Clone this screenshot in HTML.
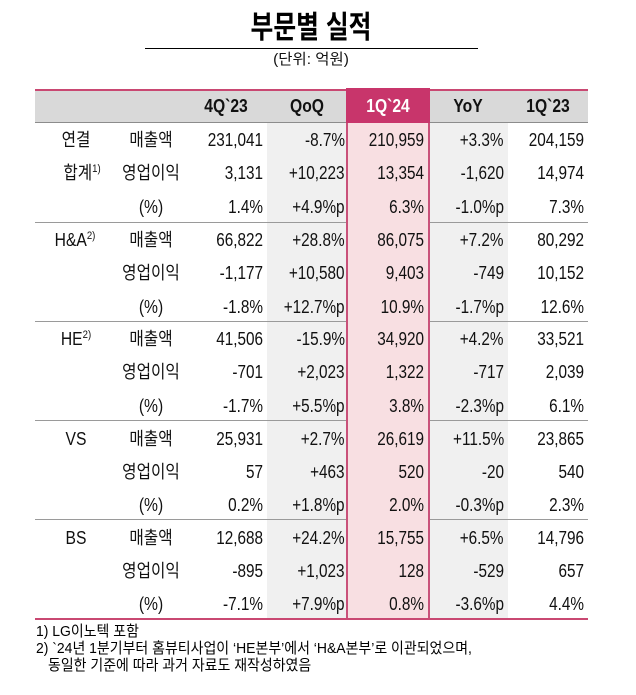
<!DOCTYPE html>
<html><head><meta charset="utf-8">
<style>
*{margin:0;padding:0;box-sizing:border-box}
html,body{width:636px;height:695px;background:#fff;overflow:hidden}
body{position:relative;font-family:"Liberation Sans","Noto Sans CJK KR",sans-serif;color:#111}
.abs{position:absolute}
.row{position:absolute;left:0;width:636px;height:30px}
.r{position:absolute;top:0;white-space:nowrap;line-height:30px;font-size:18px;transform:scaleX(.85);transform-origin:100% 50%}
.c{position:absolute;top:0;white-space:nowrap;line-height:30px;font-size:18px;transform:translateX(-50%) scaleX(.87);transform-origin:50% 50%}
.k3{right:373px}.k4{right:291px}.k5{right:212px}.k6{right:132px}.k7{right:52px}
.l1{left:76px}.l2{left:151px}
sup{font-size:11px;vertical-align:7px;line-height:0}
.h{font-weight:bold}
.sep{position:absolute;height:1px;background:#9a9a9a}
.fn{position:absolute;white-space:nowrap;font-size:15px;line-height:17px;transform:scaleX(.93);transform-origin:0 50%;color:#000}
</style></head><body>

<!-- title -->
<div class="abs" style="left:311px;top:8px;line-height:40px;font-size:31px;font-weight:bold;white-space:nowrap;transform:translateX(-50%) scaleX(.8);color:#000">부문별 실적</div>
<div class="abs" style="left:145px;top:48px;width:333px;height:1px;background:#000"></div>
<div class="abs" style="left:311px;top:50px;line-height:20px;font-size:15px;white-space:nowrap;transform:translateX(-50%) scaleX(1.03)">(단위: 억원)</div>

<!-- header band -->
<div class="abs" style="left:35px;top:89px;width:553px;height:2px;background:#c94872"></div>
<div class="abs" style="left:35px;top:91px;width:553px;height:31px;background:#d9d9d9"></div>
<div class="abs" style="left:35px;top:122px;width:553px;height:1px;background:#8c8c8c"></div>

<!-- body column bands -->
<div class="abs" style="left:267px;top:123px;width:80px;height:495px;background:#f0f0f0"></div>
<div class="abs" style="left:429px;top:123px;width:79px;height:495px;background:#f0f0f0"></div>

<!-- separators -->
<div class="sep" style="left:35px;top:222px;width:311px"></div>
<div class="sep" style="left:430px;top:222px;width:158px"></div>
<div class="sep" style="left:35px;top:321px;width:311px"></div>
<div class="sep" style="left:430px;top:321px;width:158px"></div>
<div class="sep" style="left:35px;top:420px;width:311px"></div>
<div class="sep" style="left:430px;top:420px;width:158px"></div>
<div class="sep" style="left:35px;top:519px;width:311px"></div>
<div class="sep" style="left:430px;top:519px;width:158px"></div>

<!-- highlighted column -->
<div class="abs" style="left:346px;top:88px;width:84px;height:35px;background:#c8356b"></div>
<div class="abs" style="left:346px;top:123px;width:84px;height:495px;background:#f8dfe2;border-left:2px solid #c9517a;border-right:2px solid #c9517a"></div>

<!-- bottom line -->
<div class="abs" style="left:35px;top:618px;width:553px;height:2px;background:#c94872"></div>

<!-- header text -->
<div class="row" style="top:91px">
 <div class="c h" style="left:226px">4Q`23</div>
 <div class="c h" style="left:307px">QoQ</div>
 <div class="c h" style="left:388px;color:#fff">1Q`24</div>
 <div class="c h" style="left:468px">YoY</div>
 <div class="c h" style="left:548px">1Q`23</div>
</div>

<!-- Section 1 -->
<div class="row" style="top:125px">
 <div class="c l1">연결</div><div class="c l2">매출액</div>
 <div class="r k3">231,041</div><div class="r k4">-8.7%</div><div class="r k5">210,959</div><div class="r k6">+3.3%</div><div class="r k7">204,159</div>
</div>
<div class="row" style="top:158px">
 <div class="c" style="left:82px">합계<sup>1)</sup></div><div class="c l2">영업이익</div>
 <div class="r k3">3,131</div><div class="r k4">+10,223</div><div class="r k5">13,354</div><div class="r k6">-1,620</div><div class="r k7">14,974</div>
</div>
<div class="row" style="top:192px">
 <div class="c l2">(%)</div>
 <div class="r k3">1.4%</div><div class="r k4">+4.9%p</div><div class="r k5">6.3%</div><div class="r k6">-1.0%p</div><div class="r k7">7.3%</div>
</div>

<!-- Section 2 -->
<div class="row" style="top:225px">
 <div class="c" style="left:75px">H&amp;A<sup>2)</sup></div><div class="c l2">매출액</div>
 <div class="r k3">66,822</div><div class="r k4">+28.8%</div><div class="r k5">86,075</div><div class="r k6">+7.2%</div><div class="r k7">80,292</div>
</div>
<div class="row" style="top:258px">
 <div class="c l2">영업이익</div>
 <div class="r k3">-1,177</div><div class="r k4">+10,580</div><div class="r k5">9,403</div><div class="r k6">-749</div><div class="r k7">10,152</div>
</div>
<div class="row" style="top:292px">
 <div class="c l2">(%)</div>
 <div class="r k3">-1.8%</div><div class="r k4">+12.7%p</div><div class="r k5">10.9%</div><div class="r k6">-1.7%p</div><div class="r k7">12.6%</div>
</div>

<!-- Section 3 -->
<div class="row" style="top:324px">
 <div class="c" style="left:76px">HE<sup>2)</sup></div><div class="c l2">매출액</div>
 <div class="r k3">41,506</div><div class="r k4">-15.9%</div><div class="r k5">34,920</div><div class="r k6">+4.2%</div><div class="r k7">33,521</div>
</div>
<div class="row" style="top:357px">
 <div class="c l2">영업이익</div>
 <div class="r k3">-701</div><div class="r k4">+2,023</div><div class="r k5">1,322</div><div class="r k6">-717</div><div class="r k7">2,039</div>
</div>
<div class="row" style="top:391px">
 <div class="c l2">(%)</div>
 <div class="r k3">-1.7%</div><div class="r k4">+5.5%p</div><div class="r k5">3.8%</div><div class="r k6">-2.3%p</div><div class="r k7">6.1%</div>
</div>

<!-- Section 4 -->
<div class="row" style="top:424px">
 <div class="c" style="left:76px">VS</div><div class="c l2">매출액</div>
 <div class="r k3">25,931</div><div class="r k4">+2.7%</div><div class="r k5">26,619</div><div class="r k6">+11.5%</div><div class="r k7">23,865</div>
</div>
<div class="row" style="top:457px">
 <div class="c l2">영업이익</div>
 <div class="r k3">57</div><div class="r k4">+463</div><div class="r k5">520</div><div class="r k6">-20</div><div class="r k7">540</div>
</div>
<div class="row" style="top:490px">
 <div class="c l2">(%)</div>
 <div class="r k3">0.2%</div><div class="r k4">+1.8%p</div><div class="r k5">2.0%</div><div class="r k6">-0.3%p</div><div class="r k7">2.3%</div>
</div>

<!-- Section 5 -->
<div class="row" style="top:523px">
 <div class="c" style="left:76px">BS</div><div class="c l2">매출액</div>
 <div class="r k3">12,688</div><div class="r k4">+24.2%</div><div class="r k5">15,755</div><div class="r k6">+6.5%</div><div class="r k7">14,796</div>
</div>
<div class="row" style="top:556px">
 <div class="c l2">영업이익</div>
 <div class="r k3">-895</div><div class="r k4">+1,023</div><div class="r k5">128</div><div class="r k6">-529</div><div class="r k7">657</div>
</div>
<div class="row" style="top:589px">
 <div class="c l2">(%)</div>
 <div class="r k3">-7.1%</div><div class="r k4">+7.9%p</div><div class="r k5">0.8%</div><div class="r k6">-3.6%p</div><div class="r k7">4.4%</div>
</div>

<!-- footnotes -->
<div class="fn" style="left:36px;top:623px">1) LG이노텍 포함</div>
<div class="fn" style="left:36px;top:640px">2) `24년 1분기부터 홈뷰티사업이 ‘HE본부’에서 ‘H&amp;A본부’로 이관되었으며,</div>
<div class="fn" style="left:48px;top:657px">동일한 기준에 따라 과거 자료도 재작성하였음</div>

</body></html>
